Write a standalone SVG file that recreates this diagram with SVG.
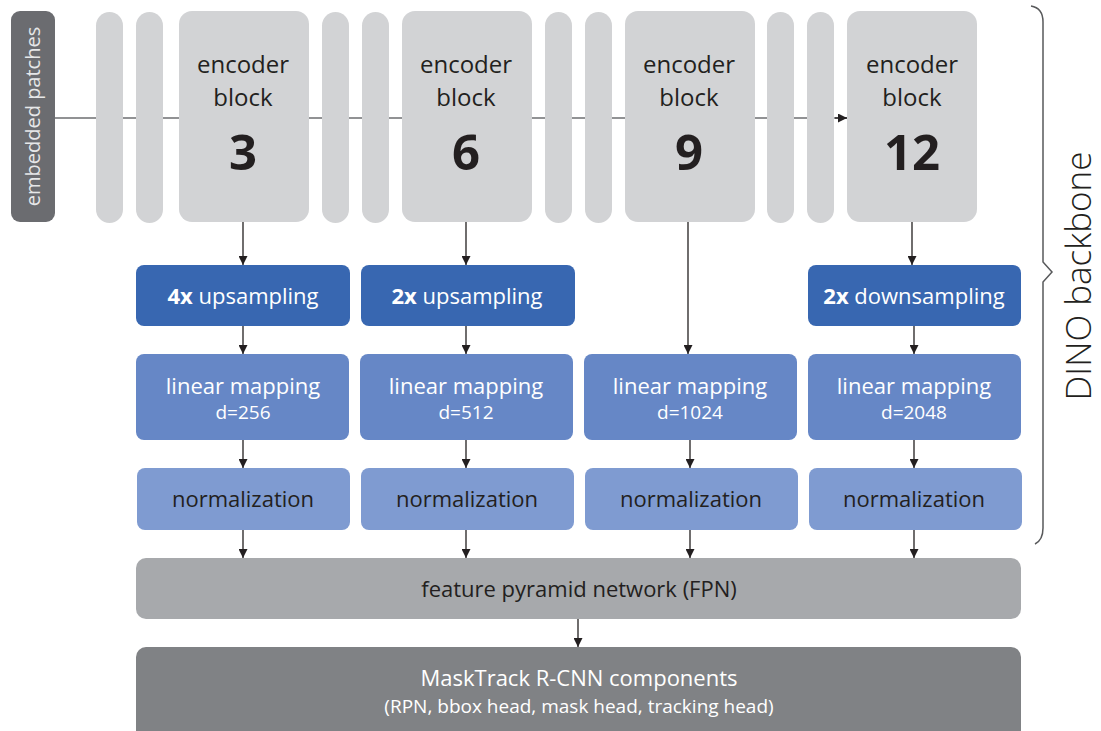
<svg xmlns="http://www.w3.org/2000/svg" width="1101" height="731" viewBox="0 0 1101 731">
<defs>
<marker id="ah" viewBox="0 0 10 10" refX="10" refY="5" markerWidth="9" markerHeight="9" markerUnits="userSpaceOnUse" orient="auto">
<path d="M0,0 L10,5 L0,10 z" fill="#231f20"/>
</marker>
<style>
text{font-family:"Open Sans","Liberation Sans",sans-serif;text-anchor:middle}
.pill{fill:#d2d3d5}
.enc{fill:#d2d3d5}
.up{fill:#3867b1}
.lin{fill:#6687c6}
.norm{fill:#7f9bd1}
.dk{fill:#231f20}
.wt{fill:#ffffff}
.c{stroke:#231f20;stroke-width:1.3;fill:none;marker-end:url(#ah)}
</style>
</defs>
<rect width="1101" height="731" fill="#ffffff"/>

<g id="connectors">
<line x1="55" y1="118" x2="847" y2="118" stroke="#6d6e71" stroke-width="1.5"/>
<path d="M835,118 L847,118" stroke="#231f20" stroke-width="1.3" fill="none" marker-end="url(#ah)"/>
<line class="c" x1="243" y1="222" x2="243" y2="265"/>
<line class="c" x1="466" y1="222" x2="466" y2="265"/>
<line class="c" x1="912" y1="222" x2="912" y2="265"/>
<line class="c" x1="243" y1="326" x2="243" y2="354"/>
<line class="c" x1="466" y1="326" x2="466" y2="354"/>
<line class="c" x1="688" y1="222" x2="688" y2="354"/>
<line class="c" x1="914" y1="326" x2="914" y2="354"/>
<line class="c" x1="243" y1="440" x2="243" y2="468"/>
<line class="c" x1="466" y1="440" x2="466" y2="468"/>
<line class="c" x1="690" y1="440" x2="690" y2="468"/>
<line class="c" x1="914" y1="440" x2="914" y2="468"/>
<line class="c" x1="243" y1="530" x2="243" y2="558"/>
<line class="c" x1="466" y1="530" x2="466" y2="558"/>
<line class="c" x1="690" y1="530" x2="690" y2="558"/>
<line class="c" x1="914" y1="530" x2="914" y2="558"/>
<line class="c" x1="578" y1="619" x2="578" y2="647"/>
</g>

<g id="embedded-patches">
<rect x="11" y="11" width="44" height="211" rx="9" fill="#6b6c70"/>
<text transform="translate(40,116.5) rotate(-90)" font-size="20" fill="#e6e7e8">embedded patches</text>
</g>

<g id="layers">
<rect class="pill" x="96" y="12" width="27" height="211" rx="13.5"/>
<rect class="pill" x="136" y="12" width="27" height="211" rx="13.5"/>
<rect class="pill" x="322" y="12" width="27" height="211" rx="13.5"/>
<rect class="pill" x="362" y="12" width="27" height="211" rx="13.5"/>
<rect class="pill" x="545" y="12" width="27" height="211" rx="13.5"/>
<rect class="pill" x="585" y="12" width="27" height="211" rx="13.5"/>
<rect class="pill" x="767" y="12" width="27" height="211" rx="13.5"/>
<rect class="pill" x="807" y="12" width="27" height="211" rx="13.5"/>
</g>

<g id="encoder-3">
<rect class="enc" x="179" y="11" width="130" height="211" rx="13"/>
<text class="dk" x="243" y="73" font-size="24">encoder</text>
<text class="dk" x="243" y="106" font-size="24">block</text>
<text class="dk" x="243" y="170" font-size="49" font-weight="bold">3</text>
</g>
<g id="encoder-6">
<rect class="enc" x="402" y="11" width="130" height="211" rx="13"/>
<text class="dk" x="466" y="73" font-size="24">encoder</text>
<text class="dk" x="466" y="106" font-size="24">block</text>
<text class="dk" x="466" y="170" font-size="49" font-weight="bold">6</text>
</g>
<g id="encoder-9">
<rect class="enc" x="625" y="11" width="130" height="211" rx="13"/>
<text class="dk" x="689" y="73" font-size="24">encoder</text>
<text class="dk" x="689" y="106" font-size="24">block</text>
<text class="dk" x="689" y="170" font-size="49" font-weight="bold">9</text>
</g>
<g id="encoder-12">
<rect class="enc" x="847" y="11" width="130" height="211" rx="13"/>
<text class="dk" x="912" y="73" font-size="24">encoder</text>
<text class="dk" x="912" y="106" font-size="24">block</text>
<text class="dk" x="912" y="170" font-size="49" font-weight="bold">12</text>
</g>

<g id="up-4x">
<rect class="up" x="136" y="265" width="214" height="61" rx="8"/>
<text class="wt" x="243" y="304" font-size="22"><tspan font-weight="bold">4x</tspan> upsampling</text>
</g>
<g id="up-2x">
<rect class="up" x="361" y="265" width="214" height="61" rx="8"/>
<text class="wt" x="467" y="304" font-size="22"><tspan font-weight="bold">2x</tspan> upsampling</text>
</g>
<g id="down-2x">
<rect class="up" x="808" y="265" width="213" height="61" rx="8"/>
<text class="wt" x="914" y="304" font-size="22"><tspan font-weight="bold">2x</tspan> downsampling</text>
</g>

<g id="lin-256">
<rect class="lin" x="136" y="354" width="213" height="86" rx="8"/>
<text class="wt" x="243" y="394" font-size="22">linear mapping</text>
<text class="wt" x="243" y="419" font-size="19">d=256</text>
</g>
<g id="lin-512">
<rect class="lin" x="360" y="354" width="213" height="86" rx="8"/>
<text class="wt" x="466" y="394" font-size="22">linear mapping</text>
<text class="wt" x="466" y="419" font-size="19">d=512</text>
</g>
<g id="lin-1024">
<rect class="lin" x="584" y="354" width="213" height="86" rx="8"/>
<text class="wt" x="690" y="394" font-size="22">linear mapping</text>
<text class="wt" x="690" y="419" font-size="19">d=1024</text>
</g>
<g id="lin-2048">
<rect class="lin" x="808" y="354" width="213" height="86" rx="8"/>
<text class="wt" x="914" y="394" font-size="22">linear mapping</text>
<text class="wt" x="914" y="419" font-size="19">d=2048</text>
</g>

<g id="norm-1">
<rect class="norm" x="137" y="468" width="213" height="62" rx="8"/>
<text class="dk" x="243" y="507" font-size="22">normalization</text>
</g>
<g id="norm-2">
<rect class="norm" x="361" y="468" width="213" height="62" rx="8"/>
<text class="dk" x="467" y="507" font-size="22">normalization</text>
</g>
<g id="norm-3">
<rect class="norm" x="585" y="468" width="213" height="62" rx="8"/>
<text class="dk" x="691" y="507" font-size="22">normalization</text>
</g>
<g id="norm-4">
<rect class="norm" x="809" y="468" width="213" height="62" rx="8"/>
<text class="dk" x="914" y="507" font-size="22">normalization</text>
</g>

<g id="fpn">
<rect x="136" y="558" width="885" height="61" rx="10" fill="#a7a9ac"/>
<text class="dk" x="579" y="597" font-size="22">feature pyramid network (FPN)</text>
</g>

<g id="masktrack">
<rect x="136" y="647" width="885" height="95" rx="10" fill="#808285"/>
<text class="wt" x="579" y="686" font-size="22">MaskTrack R-CNN components</text>
<text class="wt" x="579" y="713" font-size="19">(RPN, bbox head, mask head, tracking head)</text>
</g>

<g id="dino-backbone">
<path d="M1031,6 Q1043,8 1043,22 L1043,262 L1052,272 L1043,282 L1043,528 Q1043,540 1035,544" fill="none" stroke="#58595b" stroke-width="1.5"/>
<text transform="translate(1091,276) rotate(-90)" font-size="35" fill="#231f20" font-weight="300">DINO backbone</text>
</g>
</svg>
